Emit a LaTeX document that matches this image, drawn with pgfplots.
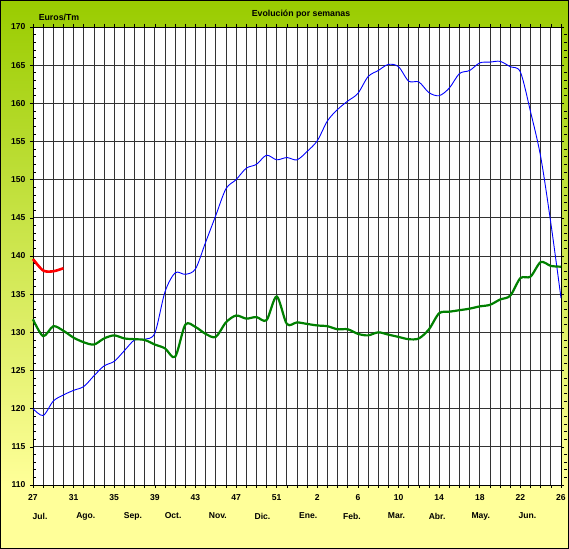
\documentclass[border=0pt]{standalone}
\usepackage{pgfplots}
\pgfplotsset{compat=1.18}
\usepackage{fontspec}
\setmainfont{Liberation Sans}
\definecolor{bggreen}{RGB}{153,204,0}
\definecolor{bgyellow}{RGB}{255,255,153}
\definecolor{lgreen}{RGB}{0,128,0}
\begin{document}
\begin{tikzpicture}
\useasboundingbox (0,0) rectangle (569bp,549bp);
\shade[top color=bggreen, bottom color=bgyellow] (0,64bp) rectangle (569bp,549bp);
\fill[bgyellow] (0,0) rectangle (569bp,64.5bp);
\draw[black, line width=0.8bp] (0.5bp,0.5bp) rectangle (568.5bp,548.5bp);
\begin{axis}[
  at={(33bp,64bp)}, anchor=south west,
  scale only axis, width=528bp, height=458bp,
  xmin=0, xmax=52, ymin=110, ymax=170,
  axis background/.style={fill=white},
  xtick={0,...,52},
  xticklabels={27,,,,31,,,,35,,,,39,,,,43,,,,47,,,,51,,,,2,,,,6,,,,10,,,,14,,,,18,,,,22,,,,26},
  ytick={110,115,...,170},
  minor y tick num=4,
  tick align=outside,
  major tick length=3bp,
  minor tick length=3bp,
  every minor tick/.append style={xshift=3bp},
  tick style={black, line width=0.6bp},
  xmajorgrids, ymajorgrids,
  major grid style={black!80, line width=0.7bp},
  axis line style={black, line width=0.8bp},
  /pgf/number format/assume math mode=true,
  tick label style={font=\bfseries\fontsize{8.6}{10}\selectfont},
  xticklabel style={yshift=-3bp},
  yticklabel style={xshift=-1bp},
  clip=false,
]
\addplot[blue, line width=0.9bp, smooth, tension=0.5] coordinates {
(0,120.0)(1,119.1)(2,121.0)(3,121.8)(4,122.4)(5,122.9)(6,124.3)(7,125.6)(8,126.2)(9,127.6)
(10,129.0)(11,129.1)(12,129.9)(13,135.3)(14,137.8)(15,137.6)(16,138.3)(17,141.8)(18,145.3)(19,148.8)
(20,150.0)(21,151.5)(22,152.0)(23,153.2)(24,152.6)(25,152.9)(26,152.6)(27,153.7)(28,155.1)(29,157.7)
(30,159.2)(31,160.3)(32,161.3)(33,163.5)(34,164.3)(35,165.1)(36,164.8)(37,162.9)(38,162.8)(39,161.4)
(40,161.0)(41,162.0)(42,163.9)(43,164.3)(44,165.3)(45,165.4)(46,165.5)(47,164.8)(48,164.1)(49,158.9)
(50,153.0)(51,144.3)(52,134.5)};
\addplot[lgreen, line width=2.2bp, smooth, tension=0.5] coordinates {
(0,131.7)(1,129.5)(2,130.8)(3,130.2)(4,129.3)(5,128.7)(6,128.4)(7,129.2)(8,129.6)(9,129.2)
(10,129.1)(11,129.0)(12,128.4)(13,127.9)(14,126.8)(15,131.0)(16,130.7)(17,129.8)(18,129.4)(19,131.3)
(20,132.2)(21,131.8)(22,132.0)(23,131.6)(24,134.7)(25,131.1)(26,131.3)(27,131.1)(28,130.9)(29,130.8)
(30,130.4)(31,130.4)(32,129.8)(33,129.6)(34,130.0)(35,129.7)(36,129.4)(37,129.1)(38,129.2)(39,130.4)
(40,132.5)(41,132.7)(42,132.9)(43,133.1)(44,133.4)(45,133.6)(46,134.3)(47,134.8)(48,137.1)(49,137.3)
(50,139.2)(51,138.7)(52,138.6)};
\addplot[red, line width=2.6bp, smooth, tension=0.5] coordinates {
(0,139.6)(1,138.1)(2,138.0)(3,138.4)};
\foreach \m/\p in {Jul./0.7, Ago./5.2, Sep./9.85, Oct./13.8, Nov./18.2, Dic./22.6, Ene./27.1, Feb./31.4, Mar./35.8, Abr./39.8, May./44.1, Jun./48.7}{
  \edef\tmp{\noexpand\node[font=\noexpand\bfseries\noexpand\fontsize{8.6}{10}\noexpand\selectfont] at (axis cs:\p,110) [yshift=-31bp] {\m};}
  \tmp
}
\end{axis}
\node[font=\bfseries\fontsize{8.8}{10}\selectfont] at (301bp,535bp) {Evolución por semanas};
\node[font=\bfseries\fontsize{8.8}{10}\selectfont] at (59bp,532bp) {Euros/Tm};
\end{tikzpicture}
\end{document}
